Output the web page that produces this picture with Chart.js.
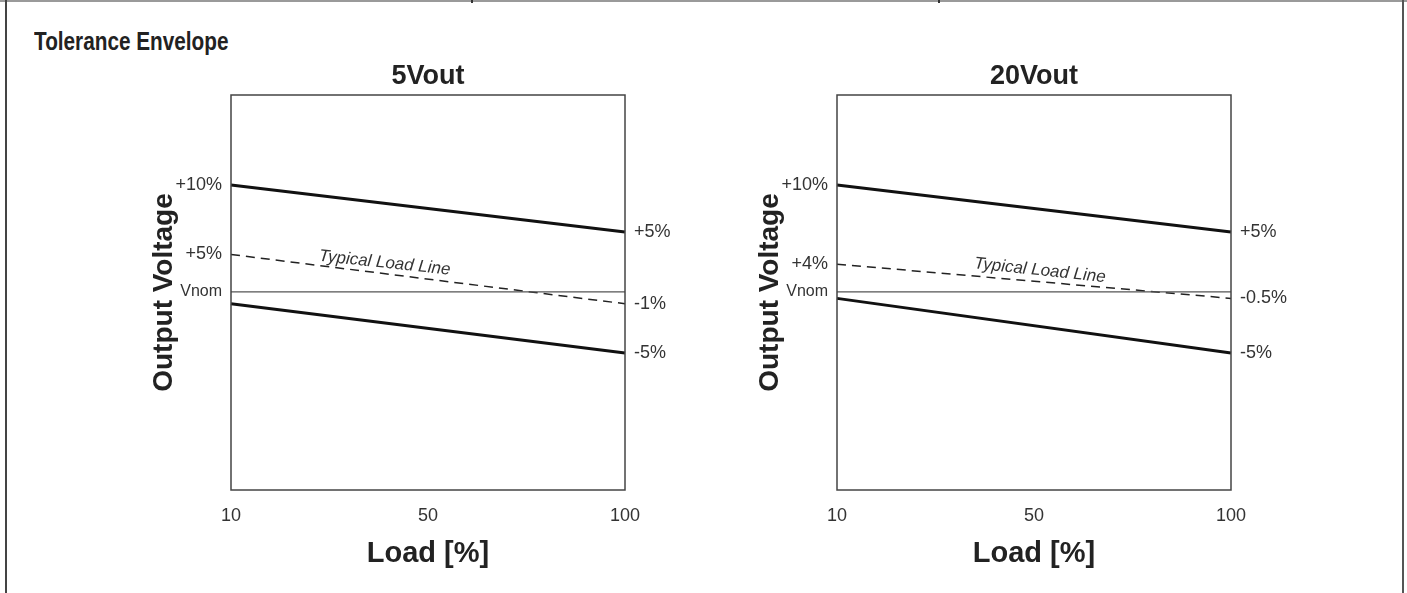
<!DOCTYPE html>
<html>
<head>
<meta charset="utf-8">
<script src="https://cdn.jsdelivr.net/npm/chart.js@4.4.1/dist/chart.umd.min.js"></script>
<style>
  body { margin: 0; background: #fff; }
  #page { position: relative; width: 1407px; height: 593px; overflow: hidden; }
  #topline { position: absolute; left: 0; top: 0; width: 1407px; height: 2px; background: #9a9a9a; }
  .tick { position: absolute; top: 0; width: 2px; height: 3px; background: #333; }
  #lborder { position: absolute; left: 5px; top: 0; width: 2px; height: 593px; background: #444; }
  #rborder { position: absolute; left: 1402px; top: 0; width: 2px; height: 593px; background: #555; }
  #heading { position: absolute; left: 34px; top: 27px; font: bold 25px "Liberation Sans", sans-serif; color: #222;
             transform: scaleX(0.83); transform-origin: left top; white-space: nowrap; }
  canvas { position: absolute; top: 55px; }
</style>
</head>
<body>
<div id="page">
  <div id="topline"></div>
  <div class="tick" style="left:471px"></div>
  <div class="tick" style="left:938px"></div>
  <div id="lborder"></div>
  <div id="rborder"></div>
  <div id="heading">Tolerance Envelope</div>
  <canvas id="c5" width="570" height="538" style="left:130px"></canvas>
  <canvas id="c20" width="570" height="538" style="left:736px"></canvas>
</div>
<script>
// load axis (schematic: 10, 50, 100 evenly spaced)
const loads = ['10', '50', '100'];

// 5Vout, values in % of Vnom
const upper5 = [10, null, 5.6];
const typical5 = [3.5, null, -1.1];
const lower5 = [-1.1, null, -5.7];
const leftLabels5 = ['+10%', '+5%', 'Vnom'];
const rightLabels5 = ['+5%', '-1%', '-5%'];

// 20Vout
const upper20 = [10, null, 5.6];
const typical20 = [2.6, null, -0.6];
const lower20 = [-0.6, null, -5.7];
const leftLabels20 = ['+10%', '+4%', 'Vnom'];
const rightLabels20 = ['+5%', '-0.5%', '-5%'];

const vnom = [0, null, 0];

const FONT = '"Liberation Sans", Arial, sans-serif';

// box round the plot area
const framePlugin = {
  id: 'frame',
  afterDraw(chart) {
    const a = chart.chartArea, ctx = chart.ctx;
    ctx.save();
    ctx.strokeStyle = '#444';
    ctx.lineWidth = 1.5;
    ctx.strokeRect(a.left, a.top, a.right - a.left, a.bottom - a.top);
    ctx.restore();
  }
};

// "Typical Load Line" note, placed in data units
const notePlugin = {
  id: 'note',
  afterDatasetsDraw(chart, args, opts) {
    const ctx = chart.ctx;
    const x = chart.scales.x.getPixelForValue(opts.x);
    const y = chart.scales.y.getPixelForValue(opts.y);
    ctx.save();
    ctx.translate(x, y);
    ctx.rotate(opts.angle * Math.PI / 180);
    ctx.font = 'italic 17px ' + FONT;
    ctx.fillStyle = '#333';
    ctx.textAlign = 'center';
    ctx.textBaseline = 'middle';
    ctx.fillText('Typical Load Line', 0, 0);
    ctx.restore();
  }
};

function makeChart(id, title, upper, typical, lower, leftLabels, rightLabels, note) {
  const leftVals = [upper[0], typical[0], vnom[0]];
  const rightVals = [upper[2], typical[2], lower[2]];
  const tickFont = ctx => (ctx.tick && ctx.tick.label === 'Vnom')
    ? { family: FONT, size: 16 }
    : { family: FONT, size: 18 };

  new Chart(document.getElementById(id), {
    type: 'line',
    data: {
      labels: loads,
      datasets: [
        { data: vnom, borderColor: '#555', borderWidth: 1.2 },
        { data: upper, borderColor: '#111', borderWidth: 3 },
        { data: typical, borderColor: '#222', borderWidth: 1.5, borderDash: [9, 6] },
        { data: lower, borderColor: '#111', borderWidth: 3 }
      ]
    },
    options: {
      responsive: false,
      animation: false,
      spanGaps: true,
      elements: { point: { radius: 0 }, line: { tension: 0 } },
      layout: { padding: 0 },
      plugins: {
        legend: { display: false },
        tooltip: { enabled: false },
        title: {
          display: true,
          text: title,
          fullSize: false,
          color: '#222',
          font: { family: FONT, size: 27, weight: 'bold' },
          padding: { top: 5, bottom: 2.6 }
        },
        note: note
      },
      scales: {
        x: {
          offset: false,
          grid: { display: false, drawTicks: false },
          border: { display: false },
          ticks: { color: '#333', font: { family: FONT, size: 18 }, padding: 15, maxRotation: 0 },
          title: {
            display: true, text: 'Load [%]', color: '#222',
            font: { family: FONT, size: 29, weight: 'bold' },
            padding: { top: 0, bottom: 22 }
          },
          afterFit: s => { s.height = 103; }
        },
        y: {
          position: 'left',
          min: -18.5, max: 18.4,
          grid: { display: false, drawTicks: false },
          border: { display: false },
          afterBuildTicks: s => { s.ticks = leftVals.map(v => ({ value: v })); },
          ticks: {
            autoSkip: false, color: '#333', padding: 9,
            font: tickFont,
            callback: (v, i) => leftLabels[i]
          },
          title: {
            display: true, text: 'Output Voltage', color: '#222',
            font: { family: FONT, size: 28, weight: 'bold' },
            padding: { top: 17, bottom: 0 }
          },
          afterFit: s => { s.width = 101; }
        },
        y2: {
          position: 'right',
          min: -18.5, max: 18.4,
          grid: { display: false, drawTicks: false },
          border: { display: false },
          afterBuildTicks: s => { s.ticks = rightVals.map(v => ({ value: v })); },
          ticks: {
            autoSkip: false, color: '#333', padding: 9,
            font: { family: FONT, size: 18 },
            callback: (v, i) => rightLabels[i]
          },
          afterFit: s => { s.width = 75; }
        }
      }
    },
    plugins: [framePlugin, notePlugin]
  });
}

makeChart('c5', '5Vout', upper5, typical5, lower5, leftLabels5, rightLabels5,
  { x: 0.78, y: 2.7, angle: 6 });
makeChart('c20', '20Vout', upper20, typical20, lower20, leftLabels20, rightLabels20,
  { x: 1.03, y: 2.0, angle: 6 });
</script>
</body>
</html>
